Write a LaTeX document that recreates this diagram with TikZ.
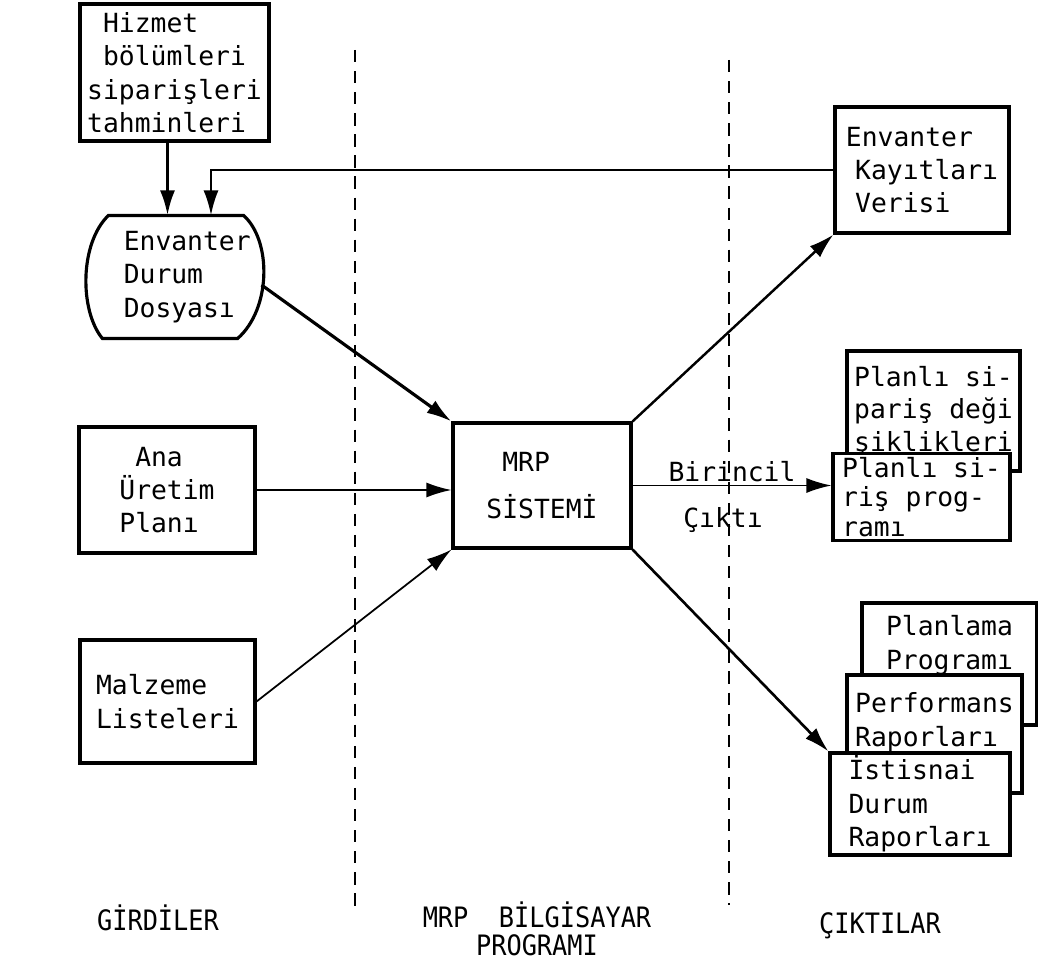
\documentclass[tikz,border=0pt]{standalone}
\usepackage{fontspec}
\setmonofont{DejaVu Sans Mono}
\usetikzlibrary{arrows.meta,calc}

\begin{document}
\begin{tikzpicture}[x=0.02cm, y=-0.02cm, line width=1.8pt,
	kutu/.style={draw, fill=white, inner sep=0pt, align=left, font=\ttfamily\fontsize{15}{19}\selectfont},
	yazi/.style={inner sep=0pt, font=\ttfamily\fontsize{15}{19}\selectfont},
	baslik/.style={inner sep=0pt, align=center, font=\ttfamily\fontsize{16}{16}\selectfont},
	ok/.style={-{Latex[length=5mm, width=3mm]}},
	ince/.style={line width=1pt},
	ayrac/.style={line width=0.8pt, dash pattern=on 7pt off 5pt}]
	\useasboundingbox (0,0) rectangle (1038,966);
	
	% girdiler
	\node[kutu, minimum width=3.78cm, minimum height=2.74cm] (hizmet) at (174.5,72.5)
		{\ Hizmet\\\ bölümleri\\siparişleri\\tahminleri};
	\node[yazi, align=left, minimum width=3.44cm, minimum height=2.4cm] (durum) at (176,277)
		{\hspace*{.45cm}Envanter\\\hspace*{.45cm}Durum\\\hspace*{.45cm}Dosyası};
	\draw ($(durum.north west)+(20,0)$) -- ($(durum.north east)+(-20,0)$)
		.. controls ($(durum.north east)+(8,25)$) and ($(durum.south east)+(8,-30)$) .. ($(durum.south east)+(-26,0)$)
		-- ($(durum.south west)+(14,0)$)
		.. controls ($(durum.south west)+(-9,-28)$) and ($(durum.north west)+(-9,28)$) .. cycle;
	\node[kutu, minimum width=3.52cm, minimum height=2.52cm] (ana) at (167,490)
		{\ Ana\\Üretim\\Planı};
	\node[kutu, minimum width=3.5cm, minimum height=2.46cm] (malzeme) at (167.5,701.5)
		{Malzeme\\Listeleri};
	
	% MRP sistemi
	\node[kutu, minimum width=3.56cm, minimum height=2.5cm] (mrp) at (542,485.5)
		{\ MRP\\[8pt]SİSTEMİ};
	
	% çıktılar
	\node[kutu, minimum width=3.48cm, minimum height=2.52cm] (kayit) at (922,170)
		{Envanter\\\hspace{.35em}Kayıtları\\\hspace{.35em}Verisi};
	\node[kutu, minimum width=3.46cm, minimum height=2.4cm, font=\ttfamily\fontsize{15}{18.5}\selectfont] (plan2) at (933.5,411)
		{Planlı si-\\pariş deği\\şiklikleri};
	\node[kutu, minimum width=3.54cm, minimum height=1.74cm, font=\ttfamily\fontsize{15}{17}\selectfont] (plan1) at (921.5,497)
		{Planlı si-\\riş prog-\\ramı};
	\node[kutu, minimum width=3.5cm, minimum height=2.44cm] (planlama) at (949.5,664)
		{Planlama\\Programı\\\strut};
	\node[kutu, minimum width=3.5cm, minimum height=2.36cm] (performans) at (934.5,734)
		{Performans\\Raporları\\[-8pt]\strut};
	\node[kutu, minimum width=3.6cm, minimum height=2.04cm] (istisnai) at (920,804)
		{İstisnai\\Durum\\Raporları};
	
	% oklar
	\coordinate (asagi) at ($(hizmet.south)+(-7,0)$);
	\coordinate (geri) at ($(durum.north)+(35,0)$);
	\draw[ok] (asagi) -- (asagi |- durum.north);
	\draw[ok, line width=1.4pt] (kayit.west) -| (geri);
	\draw[ok] ($(durum.east)+(-2,8)$) -- (mrp.north west);
	\draw[ok, ince] (ana.east) -- (ana.east -| mrp.west);
	\draw[ok, ince] (malzeme.east) -- (mrp.south west);
	\draw[ok, line width=1.4pt] (mrp.north east) -- (kayit.south west);
	\draw[ok, ince] (mrp.east) -- (mrp.east -| plan1.west);
	\draw[ok, line width=1.5pt] (mrp.south east) -- (istisnai.north west);
	
	\node[yazi] (birincil) at (732,472) {Birincil};
	\node[yazi] (cikti) at (723,520) {Çıktı};
	
	% ayraclar
	\coordinate (s1) at (355,50);
	\coordinate (s2) at (355,912);
	\coordinate (s3) at (729,60);
	\coordinate (s4) at (729,905);
	\draw[ayrac] (s1) -- (s2);
	\draw[ayrac] (s3) -- (s4);
	
	\node[baslik] (girdiler) at (158,918) {\scalebox{0.9}[1]{GİRDİLER}};
	\node[baslik] (program) at (537,929) {\scalebox{0.9}[1]{MRP\ \ BİLGİSAYAR}\\\scalebox{0.9}[1]{PROGRAMI}};
	\node[baslik] (ciktilar) at (880,926) {\scalebox{0.9}[1]{ÇIKTILAR}};
\end{tikzpicture}
\end{document}
